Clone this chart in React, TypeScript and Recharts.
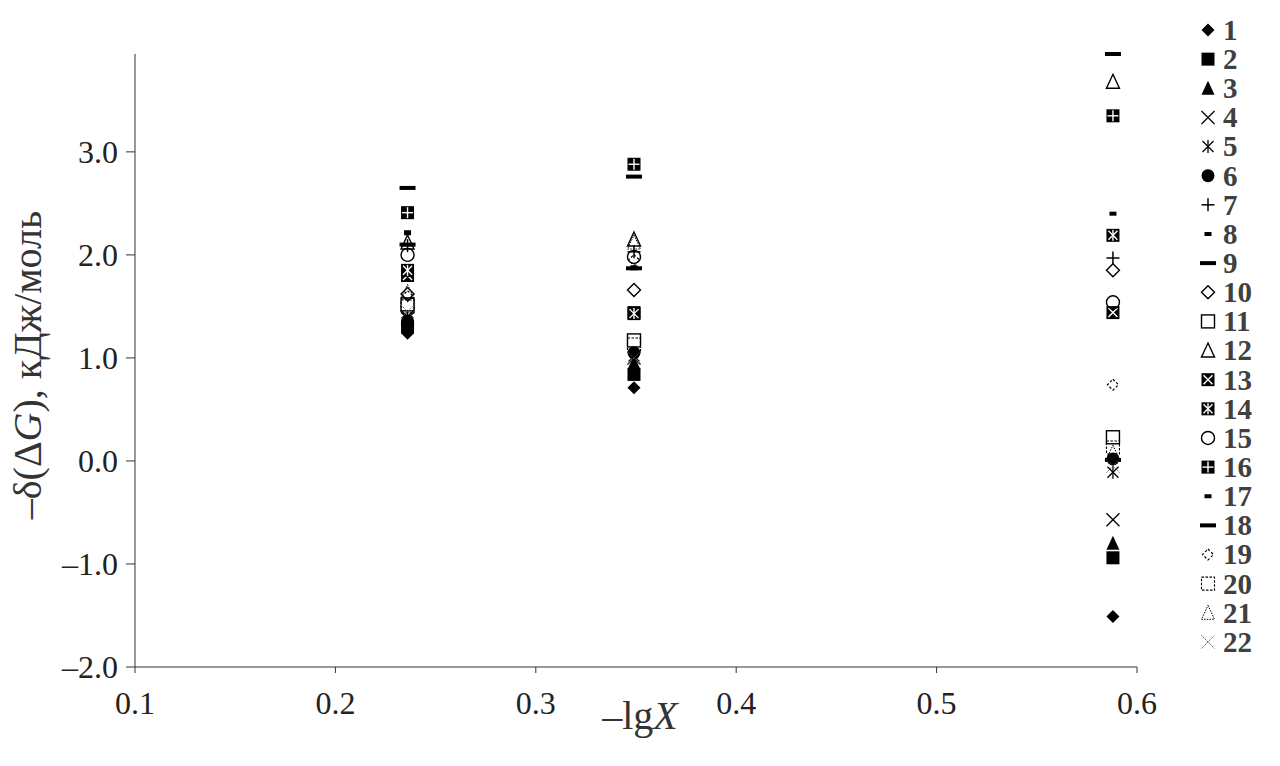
import React from 'react';
import { ScatterChart, Scatter, XAxis, YAxis, Legend, Label } from 'recharts';

// -lgX positions of the three measurement columns
const xValues = [0.236, 0.349, 0.588];

// -δ(ΔG), кДж/моль for each series at the three columns
const s1 = [1.24, 0.71, -1.51];
const s2 = [1.3, 0.84, -0.94];
const s3 = [1.35, 0.95, -0.8];
const s4 = [1.38, 1.0, -0.57];
const s5 = [1.4, 1.02, -0.11];
const s6 = [1.36, 1.05, 0.02];
const s7 = [2.09, 2.03, 1.97];
const s8 = [2.22, 1.87, 2.4];
const s9 = [2.65, 2.76, 3.95];
const s10 = [1.62, 1.66, 1.85];
const s11 = [1.52, 1.17, 0.23];
const s12 = [2.12, 2.15, 3.68];
const s13 = [1.8, 1.44, 1.44];
const s14 = [1.85, 1.43, 2.19];
const s15 = [2.0, 1.98, 1.54];
const s16 = [2.41, 2.88, 3.35];
const s17 = [2.21, 1.88, 0.05];
const s18 = [2.1, 1.87, 0.01];
const s19 = [1.6, 1.95, 0.74];
const s20 = [1.5, 1.13, 0.13];
const s21 = [1.64, 2.12, 0.08];
const s22 = [1.45, 1.0, -0.05];

const seriesNames = ['1', '2', '3', '4', '5', '6', '7', '8', '9', '10', '11', '12', '13', '14', '15', '16', '17', '18', '19', '20', '21', '22'];
const seriesValues = [s1, s2, s3, s4, s5, s6, s7, s8, s9, s10, s11, s12, s13, s14, s15, s16, s17, s18, s19, s20, s21, s22];
const markerKinds = [
  'diamondFilled', 'squareFilled', 'triangleFilled', 'x', 'asterisk', 'circleFilled', 'plus',
  'dashShort', 'dashLong', 'diamondOpen', 'squareOpen', 'triangleOpen', 'squareX', 'squareAsterisk',
  'circleOpen', 'squarePlus', 'dashShort', 'dashLong', 'diamondDashed', 'squareDashed', 'triangleDashed', 'xDotted',
];

const xTicks = [0.1, 0.2, 0.3, 0.4, 0.5, 0.6];
const yTicks = [-2, -1, 0, 1, 2, 3];

const serif = '"Liberation Serif", "Times New Roman", serif';

const fmt = (v: number) => (v < 0 ? '–' : '') + Math.abs(v).toFixed(1);

function Marker({ kind, cx, cy }: { kind: string; cx: number; cy: number }) {
  const s = 6.5;
  const k = '#000';
  switch (kind) {
    case 'diamondFilled':
      return <polygon points={`${cx},${cy - s} ${cx + s},${cy} ${cx},${cy + s} ${cx - s},${cy}`} fill={k} />;
    case 'squareFilled':
      return <rect x={cx - s} y={cy - s} width={2 * s} height={2 * s} fill={k} />;
    case 'triangleFilled':
      return <polygon points={`${cx},${cy - s - 1} ${cx + s},${cy + s} ${cx - s},${cy + s}`} fill={k} />;
    case 'x':
      return (
        <g stroke={k} strokeWidth={1.3}>
          <line x1={cx - s} y1={cy - s} x2={cx + s} y2={cy + s} />
          <line x1={cx - s} y1={cy + s} x2={cx + s} y2={cy - s} />
        </g>
      );
    case 'asterisk':
      return (
        <g stroke={k} strokeWidth={1.3}>
          <line x1={cx - s + 1} y1={cy - s + 1} x2={cx + s - 1} y2={cy + s - 1} />
          <line x1={cx - s + 1} y1={cy + s - 1} x2={cx + s - 1} y2={cy - s + 1} />
          <line x1={cx} y1={cy - s} x2={cx} y2={cy + s} />
        </g>
      );
    case 'circleFilled':
      return <circle cx={cx} cy={cy} r={s} fill={k} />;
    case 'plus':
      return (
        <g stroke={k} strokeWidth={1.5}>
          <line x1={cx - s} y1={cy} x2={cx + s} y2={cy} />
          <line x1={cx} y1={cy - s} x2={cx} y2={cy + s} />
        </g>
      );
    case 'dashShort':
      return <rect x={cx - 3.5} y={cy - 2} width={7} height={4} fill={k} />;
    case 'dashLong':
      return <rect x={cx - 8} y={cy - 2} width={16} height={4} fill={k} />;
    case 'diamondOpen':
      return <polygon points={`${cx},${cy - s} ${cx + s},${cy} ${cx},${cy + s} ${cx - s},${cy}`} fill="none" stroke={k} strokeWidth={1.4} />;
    case 'squareOpen':
      return <rect x={cx - s} y={cy - s} width={2 * s} height={2 * s} fill="none" stroke={k} strokeWidth={1.4} />;
    case 'triangleOpen':
      return <polygon points={`${cx},${cy - s - 1} ${cx + s},${cy + s} ${cx - s},${cy + s}`} fill="none" stroke={k} strokeWidth={1.4} />;
    case 'circleOpen':
      return <circle cx={cx} cy={cy} r={s} fill="none" stroke={k} strokeWidth={1.4} />;
    case 'squareX':
    case 'squareAsterisk':
    case 'squarePlus':
      return (
        <g>
          <rect x={cx - s} y={cy - s} width={2 * s} height={2 * s} fill={k} />
          <g stroke="#fff" strokeWidth={1.4}>
            {kind !== 'squarePlus' && (
              <>
                <line x1={cx - s + 2} y1={cy - s + 2} x2={cx + s - 2} y2={cy + s - 2} />
                <line x1={cx - s + 2} y1={cy + s - 2} x2={cx + s - 2} y2={cy - s + 2} />
              </>
            )}
            {kind !== 'squareX' && <line x1={cx} y1={cy - s + 1} x2={cx} y2={cy + s - 1} />}
            {kind === 'squarePlus' && <line x1={cx - s + 1} y1={cy} x2={cx + s - 1} y2={cy} />}
          </g>
        </g>
      );
    case 'diamondDashed':
      return <polygon points={`${cx},${cy - s + 1} ${cx + s - 1},${cy} ${cx},${cy + s - 1} ${cx - s + 1},${cy}`} fill="none" stroke={k} strokeWidth={1.2} strokeDasharray="2.5 2" />;
    case 'squareDashed':
      return <rect x={cx - s} y={cy - s} width={2 * s} height={2 * s} fill="none" stroke={k} strokeWidth={1.1} strokeDasharray="2.5 1.5" />;
    case 'triangleDashed':
      return <polygon points={`${cx},${cy - s - 1} ${cx + s},${cy + s} ${cx - s},${cy + s}`} fill="none" stroke={k} strokeWidth={1} strokeDasharray="1.5 1.2" />;
    case 'xDotted':
      return (
        <g stroke="#555" strokeWidth={1} strokeDasharray="1.5 1">
          <line x1={cx - s} y1={cy - s} x2={cx + s} y2={cy + s} />
          <line x1={cx - s} y1={cy + s} x2={cx + s} y2={cy - s} />
        </g>
      );
    default:
      return null;
  }
}

const LegendBox = () => (
  <svg width={90} height={660}>
    {seriesNames.map((name, i) => {
      const y = 16 + i * 29.14;
      return (
        <g key={name}>
          <Marker kind={markerKinds[i]} cx={18} cy={y} />
          <text x={33} y={y} dy="0.34em" fontFamily={serif} fontSize={29} fontWeight="bold" fill="#404040">
            {name}
          </text>
        </g>
      );
    })}
  </svg>
);

export default function App() {
  return (
    <div style={{ position: 'absolute', left: 0, top: 0, width: 1280, height: 766, background: '#fff' }}>
      <ScatterChart width={1280} height={766} margin={{ top: 54, right: 143, bottom: 0, left: 0 }}>
        <XAxis
          type="number"
          dataKey="x"
          domain={[0.1, 0.6]}
          ticks={xTicks}
          tickFormatter={fmt}
          height={99}
          stroke="#333"
          tickSize={6}
          tickMargin={18}
          tick={{ fill: '#222', fontFamily: serif, fontSize: 32 }}
        >
          <Label
            position="insideBottom"
            offset={40}
            content={() => (
              <text x={640} y={729} textAnchor="middle" fontFamily={serif} fontSize={40} fill="#333">
                –lg<tspan fontStyle="italic">X</tspan>
              </text>
            )}
          />
        </XAxis>
        <YAxis
          type="number"
          dataKey="y"
          domain={[-2, 3.95]}
          ticks={yTicks}
          tickFormatter={fmt}
          width={135}
          stroke="#333"
          tickSize={9}
          tickMargin={8}
          tick={{ fill: '#222', fontFamily: serif, fontSize: 32 }}
        >
          <Label
            content={() => (
              <text
                x={27}
                y={365}
                textAnchor="middle"
                dominantBaseline="central"
                transform="rotate(-90 27 365)"
                fontFamily={serif}
                fontSize={40}
                fill="#333"
              >
                –δ(Δ<tspan fontStyle="italic">G</tspan>), кДж/моль
              </text>
            )}
          />
        </YAxis>
        <Legend
          layout="vertical"
          align="center"
          verticalAlign="middle"
          content={() => <LegendBox />}
          wrapperStyle={{ left: 1190, top: 14, width: 90 }}
        />
        {seriesValues.map((vals, i) => (
          <Scatter
            key={seriesNames[i]}
            name={seriesNames[i]}
            data={xValues.map((x, j) => ({ x, y: vals[j] }))}
            isAnimationActive={false}
            shape={(p: any) => <Marker kind={markerKinds[i]} cx={p.cx} cy={p.cy} />}
          />
        ))}
      </ScatterChart>
    </div>
  );
}
